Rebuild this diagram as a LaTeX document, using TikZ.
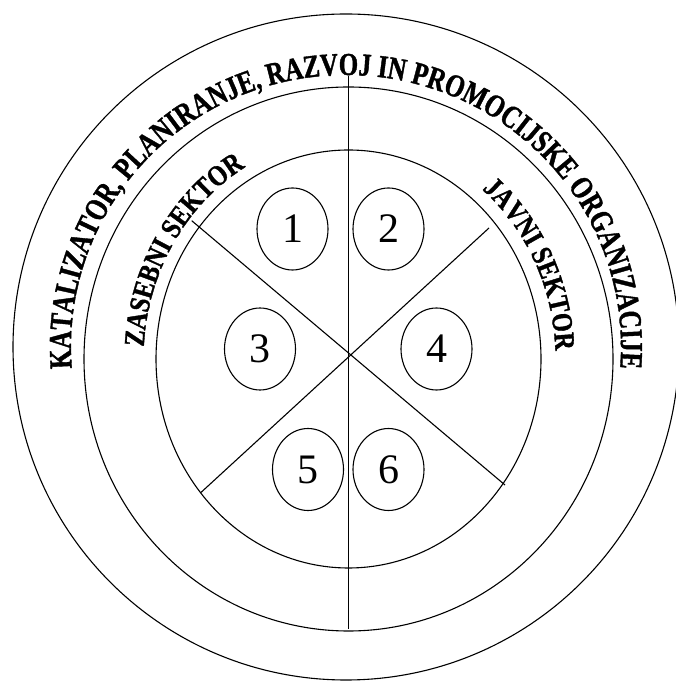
\documentclass[tikz,border=0pt]{standalone}
\usepackage{fontspec}
\setmainfont{Liberation Serif}
\newfontfamily\outerarc[FakeStretch=0.78, FakeBold=1.2]{Liberation Serif Bold}
\newfontfamily\innerarc[FakeStretch=0.84, FakeBold=1.2]{Liberation Serif Bold}
\usetikzlibrary{decorations.text,shapes.geometric}
\begin{document}
\begin{tikzpicture}[x=1pt,y=1pt,
  ring/.style={line width=1.1pt},
  seg/.style={line width=1.1pt},
  num/.style={draw, ellipse, line width=1.1pt, minimum width=71pt, minimum height=82pt, inner sep=0pt, font=\fontsize{42}{42}\selectfont},
  arctext/.style={decorate, decoration={text along path, text align=center, text={#1}}}
]
\useasboundingbox (0,0) rectangle (676,682);
% rings
\draw[ring] (346,335) ellipse [x radius=333, y radius=333];
\draw[ring] (348.5,323) ellipse [x radius=264.5, y radius=272];
\draw[ring] (348.5,323) ellipse [x radius=192.5, y radius=209];
% dividing lines
\coordinate (vt) at (348.7,606);
\coordinate (vb) at (348.7,53);
\coordinate (a1) at (191.7,461.3);
\coordinate (a2) at (505,197);
\coordinate (b1) at (489,454);
\coordinate (b2) at (200.7,189.3);
\draw[seg] (vt) -- (vb);
\draw[seg] (a1) -- (a2);
\draw[seg] (b1) -- (b2);
% numbered ellipses
\node[num] (n1) at (292.5,453) {1};
\node[num] (n2) at (388.5,453) {2};
\node[num] (n3) at (260,333) {3};
\node[num] (n4) at (436.5,333) {4};
\node[num] (n5) at (308,212.5) {5};
\node[num] (n6) at (388.5,212.5) {6};
% curved texts
\path[arctext={|\outerarc\fontsize{32}{32}\selectfont|KATALIZATOR, PLANIRANJE, RAZVOJ IN PROMOCIJSKE ORGANIZACIJE}]
  (346,335) ++(186:275 and 272) arc[start angle=186, end angle=-6, x radius=275, y radius=272];
\path[arctext={|\innerarc\fontsize{29}{29}\selectfont|ZASEBNI SEKTOR}]
  (348.5,323) ++(178:205 and 222) arc[start angle=178, end angle=119, x radius=205, y radius=222];
\path[arctext={|\innerarc\fontsize{29}{29}\selectfont|JAVNI SEKTOR}]
  (348.5,323) ++(51:207 and 222) arc[start angle=51, end angle=1, x radius=207, y radius=222];
\end{tikzpicture}
\end{document}
